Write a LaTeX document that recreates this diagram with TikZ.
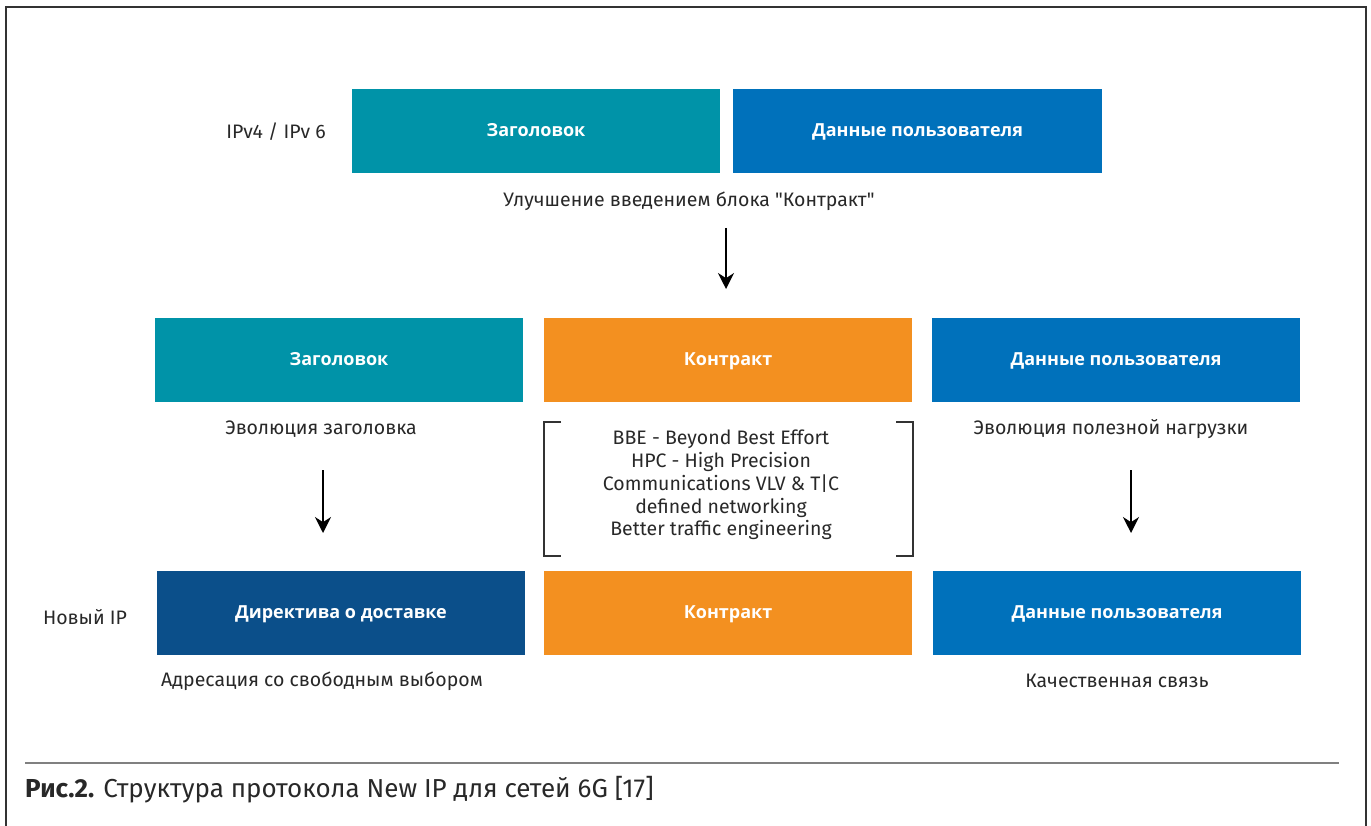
\documentclass[tikz,border=0pt]{standalone}
\usepackage{fontspec}
\setmainfont{Fira Sans}
\newfontfamily\qfont{Fira Sans}[Ligatures=TeXOff]
\newfontfamily\boxfont{Open Sans}
\usetikzlibrary{arrows.meta}
\definecolor{cteal}{RGB}{0,147,168}
\definecolor{cblue}{RGB}{0,113,187}
\definecolor{corange}{RGB}{243,144,32}
\definecolor{cdark}{RGB}{11,79,138}
\definecolor{ctext}{RGB}{40,40,40}
\tikzset{
  blk/.style={minimum width=368pt, minimum height=84pt, inner sep=0pt, text=white,
    text height=12pt, text depth=0pt,
    font=\boxfont\bfseries\fontsize{18}{22}\selectfont},
  lbl/.style={text=ctext, inner sep=0pt, font=\fontsize{19.5}{23}\selectfont},
  arr/.style={-{Stealth[length=16pt,width=16pt]}, line width=1.6pt, black},
  frame/.style={line width=1.2pt, draw=black!80},
}
\begin{document}
\begin{tikzpicture}[x=1pt,y=-1pt]
\useasboundingbox (0,0) rectangle (1371,826);
\draw[frame] (6,830) -- (6,7) -- (1366,7) -- (1366,830);
% row 1
\node[blk, fill=cteal] (h1) at (536,131) {Заголовок};
\node[blk, fill=cblue, minimum width=369pt] (d1) at (917.5,131) {Данные пользователя};
\node[lbl] (ipv) at (276,132) {IPv4 / IPv 6};
\node[lbl] (imp) at (689,201) {Улучшение введением блока {\qfont"}Контракт{\qfont"}};
\coordinate (a1s) at (726,228);
\coordinate (a1e) at (726,289);
\draw[arr] (a1s) -- (a1e);
% row 2
\node[blk, fill=cteal] (h2) at (339,360) {Заголовок};
\node[blk, fill=corange] (c2) at (728,360) {Контракт};
\node[blk, fill=cblue] (d2) at (1116,360) {Данные пользователя};
\node[lbl] (evh) at (321,429) {Эволюция заголовка};
\node[lbl] (evp) at (1111,429) {Эволюция полезной нагрузки};
\node[lbl, align=center, font=\fontsize{19.5}{22.8}\selectfont] (feat) at (721,485)
  {BBE - Beyond Best Effort\\HPC - High Precision\\Communications VLV \& T|C\\defined networking\\Better traffic engineering};
\coordinate (bl1) at (561,422);
\coordinate (bl2) at (544,422);
\coordinate (bl3) at (544,556);
\coordinate (bl4) at (561,556);
\coordinate (br1) at (896,422);
\coordinate (br2) at (913,422);
\coordinate (br3) at (913,556);
\coordinate (br4) at (896,556);
\draw[line width=1.2pt, black!80] (bl1) -- (bl2) -- (bl3) -- (bl4);
\draw[line width=1.2pt, black!80] (br1) -- (br2) -- (br3) -- (br4);
\coordinate (a2s) at (323,470);
\coordinate (a2e) at (323,533);
\draw[arr] (a2s) -- (a2e);
\coordinate (a3s) at (1131,470);
\coordinate (a3e) at (1131,533);
\draw[arr] (a3s) -- (a3e);
% row 3
\node[blk, fill=cdark] (dir) at (341,612.5) {Директива о доставке};
\node[blk, fill=corange] (c3) at (728,612.5) {Контракт};
\node[blk, fill=cblue] (d3) at (1117,612.5) {Данные пользователя};
\node[lbl] (new) at (85,617) {Новый IP};
\node[lbl] (adr) at (322,681) {Адресация со свободным выбором};
\node[lbl] (qual) at (1117,681) {Качественная связь};
% caption
\coordinate (s1) at (25,763);
\coordinate (s2) at (1339,763);
\draw[line width=1.2pt, black!50] (s1) -- (s2);
\node[anchor=west, inner sep=0pt, text=ctext, font=\fontsize{26}{30}\selectfont] (cap) at (25,790)
  {\textbf{Рис.2.} Структура протокола New IP для сетей 6G [17]};
\end{tikzpicture}
\end{document}
